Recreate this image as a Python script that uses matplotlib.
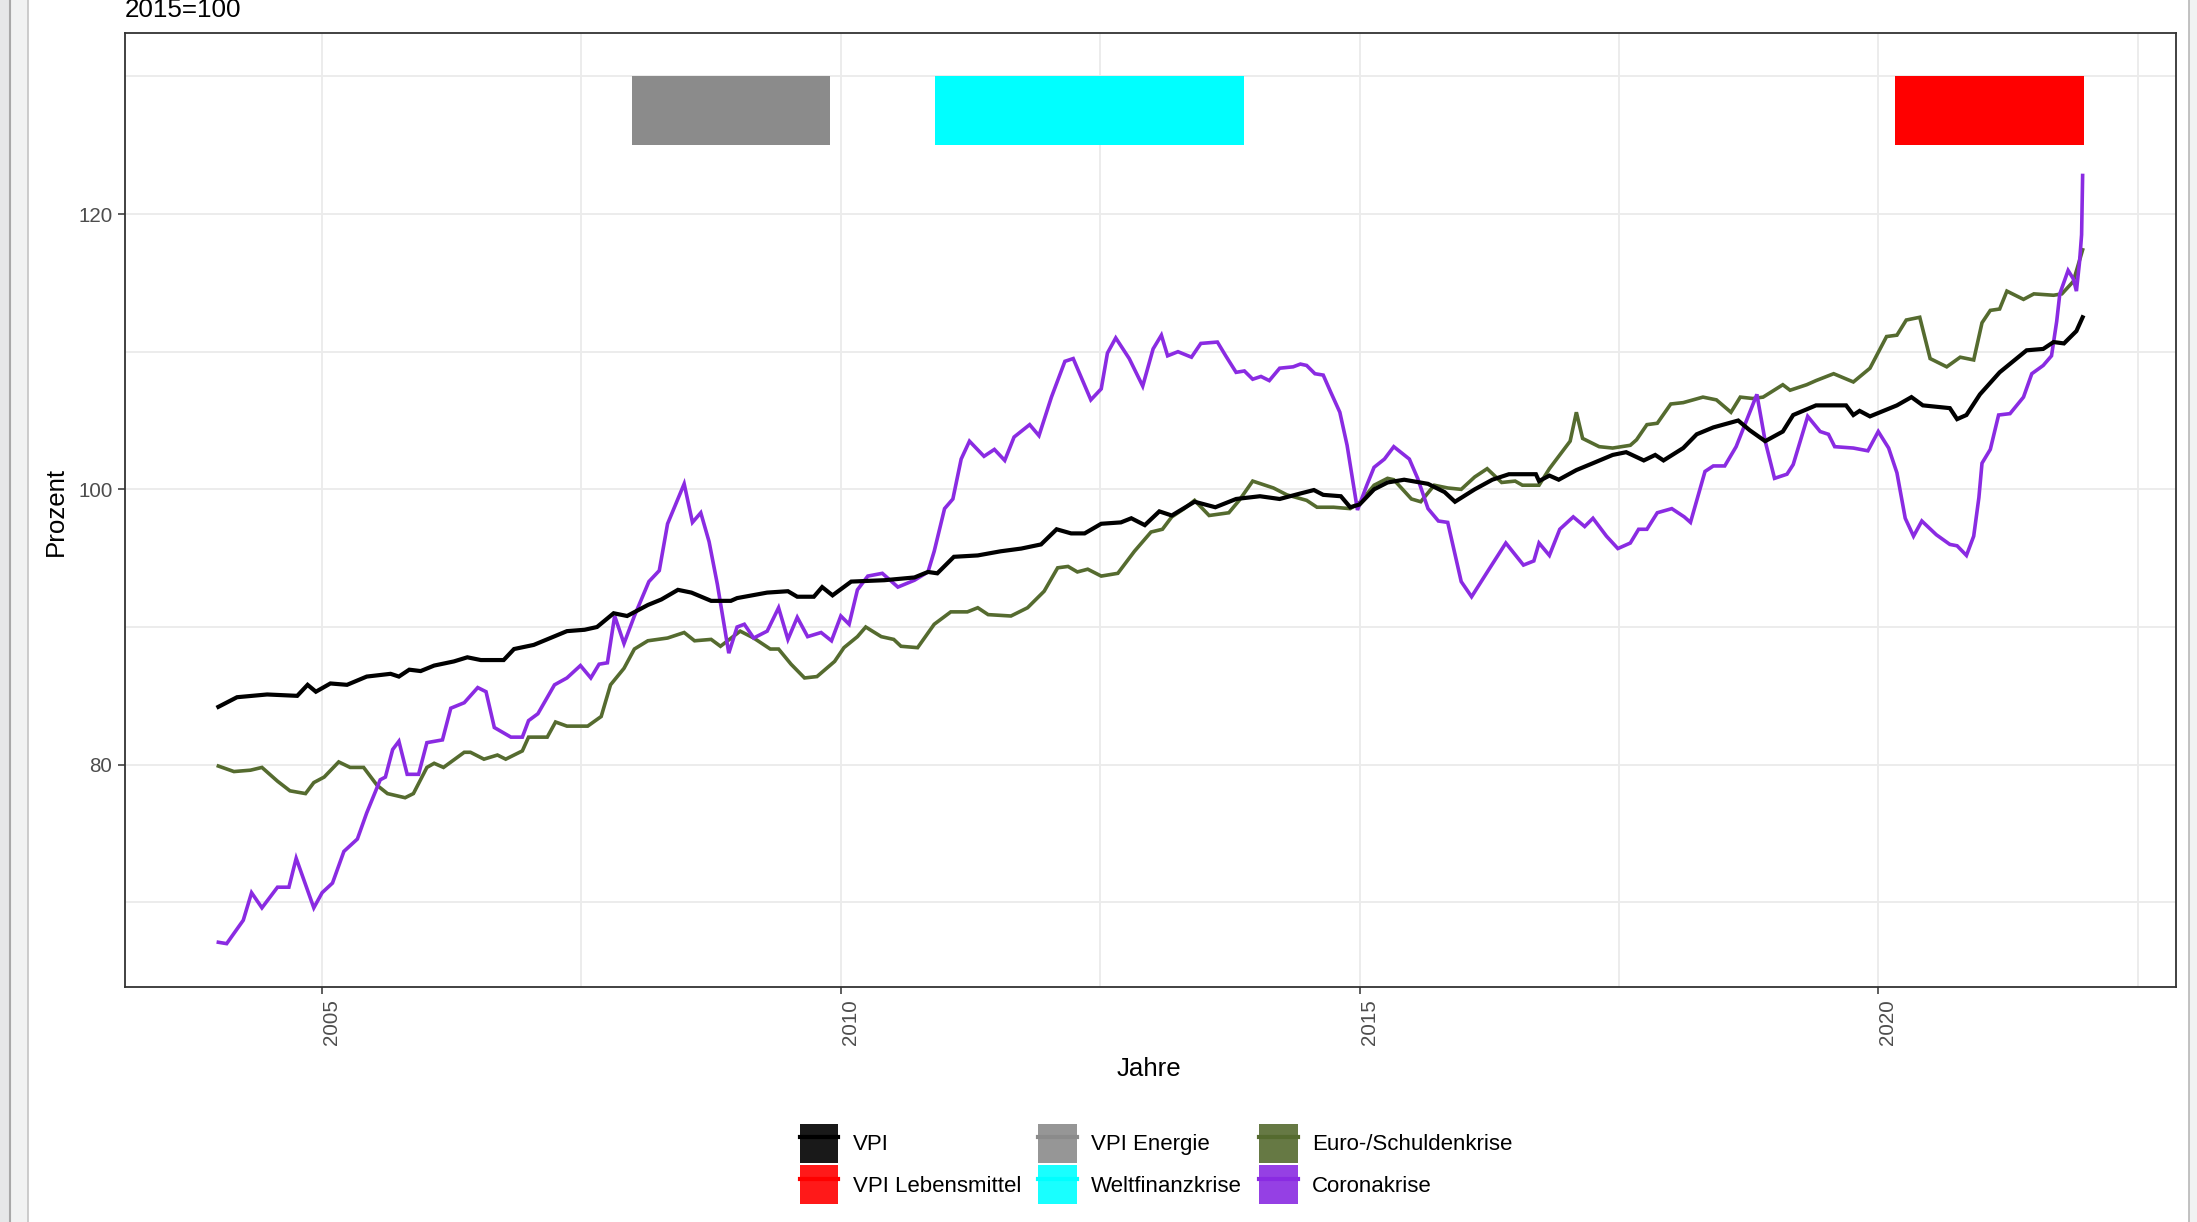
import matplotlib
matplotlib.use("Agg")
import matplotlib.pyplot as plt
from matplotlib.patches import Patch, Rectangle
from matplotlib.lines import Line2D
from matplotlib.legend_handler import HandlerTuple
from matplotlib.ticker import MultipleLocator

plt.rcParams['font.family'] = ['Liberation Sans', 'DejaVu Sans']

# ---------------- data ----------------
vpi_jahr = [2004.0, 2004.18, 2004.47, 2004.76, 2004.86, 2004.94, 2005.08, 2005.24, 2005.43, 2005.66,
            2005.74, 2005.84, 2005.95, 2006.08, 2006.27, 2006.40, 2006.53, 2006.75, 2006.85, 2007.04,
            2007.2, 2007.36, 2007.53, 2007.65, 2007.81, 2007.94, 2008.14, 2008.27, 2008.43, 2008.56,
            2008.75, 2008.94, 2009.0, 2009.29, 2009.49, 2009.58, 2009.74, 2009.82, 2009.92, 2010.1,
            2010.42, 2010.71, 2010.84, 2010.93, 2011.09, 2011.32, 2011.54, 2011.74, 2011.93, 2012.08,
            2012.22, 2012.35, 2012.51, 2012.7, 2012.8, 2012.93, 2013.07, 2013.19, 2013.41, 2013.61,
            2013.81, 2014.04, 2014.23, 2014.43, 2014.56, 2014.65, 2014.82, 2014.91, 2015.0, 2015.14,
            2015.27, 2015.43, 2015.66, 2015.82, 2015.92, 2016.11, 2016.28, 2016.44, 2016.7, 2016.73,
            2016.83, 2016.92, 2017.09, 2017.25, 2017.44, 2017.57, 2017.74, 2017.85, 2017.93, 2018.12,
            2018.25, 2018.41, 2018.65, 2018.76, 2018.91, 2019.08, 2019.18, 2019.4, 2019.69, 2019.76,
            2019.82, 2019.92, 2020.05, 2020.18, 2020.32, 2020.43, 2020.69, 2020.76, 2020.85, 2020.98,
            2021.17, 2021.43, 2021.59, 2021.69, 2021.79, 2021.91, 2021.97]
vpi_wert = [84.2, 84.9, 85.1, 85.0, 85.8, 85.3, 85.9, 85.8, 86.4, 86.6,
            86.4, 86.9, 86.8, 87.2, 87.5, 87.8, 87.6, 87.6, 88.4, 88.7,
            89.2, 89.7, 89.8, 90.0, 91.0, 90.8, 91.6, 92.0, 92.7, 92.5,
            91.9, 91.9, 92.1, 92.5, 92.6, 92.2, 92.2, 92.9, 92.3, 93.3,
            93.4, 93.6, 94.0, 93.9, 95.1, 95.2, 95.5, 95.7, 96.0, 97.1,
            96.8, 96.8, 97.5, 97.6, 97.9, 97.4, 98.4, 98.1, 99.1, 98.7,
            99.3, 99.5, 99.3, 99.7, 99.95, 99.6, 99.5, 98.7, 98.9, 100.0,
            100.5, 100.7, 100.4, 99.8, 99.1, 100.0, 100.7, 101.1, 101.1, 100.6,
            101.0, 100.7, 101.4, 101.9, 102.5, 102.7, 102.1, 102.5, 102.1, 103.0,
            104.0, 104.5, 105.0, 104.3, 103.5, 104.2, 105.4, 106.1, 106.1, 105.4,
            105.7, 105.3, 105.7, 106.1, 106.7, 106.1, 105.9, 105.1, 105.4, 106.9,
            108.5, 110.1, 110.2, 110.7, 110.6, 111.5, 112.5]

euro_jahr = [2004.0, 2004.15, 2004.31, 2004.42, 2004.57, 2004.69, 2004.84, 2004.92, 2005.02, 2005.16,
             2005.27, 2005.4, 2005.53, 2005.63, 2005.8, 2005.88, 2006.01, 2006.08, 2006.17, 2006.37,
             2006.43, 2006.56, 2006.69, 2006.77, 2006.93, 2006.99, 2007.17, 2007.25, 2007.36, 2007.56,
             2007.69, 2007.78, 2007.91, 2008.01, 2008.14, 2008.33, 2008.49, 2008.59, 2008.75, 2008.84,
             2009.03, 2009.16, 2009.32, 2009.4, 2009.52, 2009.65, 2009.77, 2009.94, 2010.03, 2010.16,
             2010.24, 2010.39, 2010.51, 2010.58, 2010.74, 2010.9, 2011.06, 2011.22, 2011.32, 2011.42,
             2011.64, 2011.8, 2011.96, 2012.09, 2012.19, 2012.28, 2012.38, 2012.51, 2012.67, 2012.83,
             2012.99, 2013.1, 2013.19, 2013.31, 2013.41, 2013.55, 2013.74, 2013.84, 2013.97, 2014.17,
             2014.3, 2014.49, 2014.59, 2014.75, 2014.91, 2015.01, 2015.14, 2015.27, 2015.33, 2015.5,
             2015.59, 2015.72, 2015.85, 2015.98, 2016.11, 2016.23, 2016.37, 2016.5, 2016.57, 2016.73,
             2016.83, 2016.93, 2017.03, 2017.09, 2017.15, 2017.31, 2017.44, 2017.61, 2017.67, 2017.77,
             2017.87, 2018.0, 2018.12, 2018.31, 2018.44, 2018.58, 2018.67, 2018.79, 2018.89, 2019.08,
             2019.15, 2019.31, 2019.4, 2019.57, 2019.76, 2019.92, 2020.08, 2020.18, 2020.27, 2020.4,
             2020.5, 2020.66, 2020.79, 2020.92, 2021.0, 2021.08, 2021.17, 2021.24, 2021.4, 2021.5,
             2021.69, 2021.77, 2021.88, 2021.97]
euro_wert = [79.9, 79.5, 79.6, 79.8, 78.8, 78.1, 77.9, 78.7, 79.1, 80.2,
             79.8, 79.8, 78.5, 77.9, 77.6, 77.9, 79.8, 80.1, 79.8, 80.9,
             80.9, 80.4, 80.7, 80.4, 81.0, 82.0, 82.0, 83.1, 82.8, 82.8,
             83.5, 85.8, 87.0, 88.4, 89.0, 89.2, 89.6, 89.0, 89.1, 88.6,
             89.7, 89.2, 88.4, 88.4, 87.3, 86.3, 86.4, 87.5, 88.5, 89.3,
             90.0, 89.3, 89.1, 88.6, 88.5, 90.2, 91.1, 91.1, 91.4, 90.9,
             90.8, 91.4, 92.6, 94.3, 94.4, 94.0, 94.2, 93.7, 93.9, 95.5,
             96.9, 97.1, 98.0, 98.6, 99.2, 98.1, 98.3, 99.2, 100.6, 100.1,
             99.6, 99.2, 98.7, 98.7, 98.6, 99.1, 100.3, 100.8, 100.7, 99.3,
             99.1, 100.3, 100.1, 100.0, 100.9, 101.5, 100.5, 100.6, 100.3, 100.3,
             101.5, 102.5, 103.5, 105.6, 103.7, 103.1, 103.0, 103.2, 103.6, 104.7,
             104.8, 106.2, 106.3, 106.7, 106.5, 105.6, 106.7, 106.6, 106.7, 107.6,
             107.2, 107.6, 107.9, 108.4, 107.8, 108.8, 111.1, 111.2, 112.3, 112.5,
             109.5, 108.9, 109.6, 109.4, 112.1, 113.0, 113.1, 114.4, 113.8, 114.2,
             114.1, 114.2, 115.1, 117.4]

corona_jahr = [2004.0, 2004.08, 2004.24, 2004.32, 2004.42, 2004.57, 2004.68, 2004.75, 2004.92, 2005.0,
               2005.1, 2005.21, 2005.34, 2005.43, 2005.56, 2005.61, 2005.68, 2005.74, 2005.82, 2005.93,
               2006.01, 2006.16, 2006.24, 2006.37, 2006.5, 2006.58, 2006.66, 2006.82, 2006.93, 2006.99,
               2007.08, 2007.24, 2007.36, 2007.49, 2007.59, 2007.67, 2007.75, 2007.82, 2007.91, 2008.01,
               2008.15, 2008.25, 2008.33, 2008.49, 2008.57, 2008.65, 2008.73, 2008.81, 2008.92, 2009.0,
               2009.07, 2009.16, 2009.29, 2009.4, 2009.49, 2009.58, 2009.68, 2009.81, 2009.91, 2010.0,
               2010.08, 2010.16, 2010.26, 2010.4, 2010.55, 2010.71, 2010.84, 2010.9, 2011.0, 2011.08,
               2011.16, 2011.24, 2011.38, 2011.48, 2011.58, 2011.67, 2011.82, 2011.91, 2012.03, 2012.16,
               2012.24, 2012.41, 2012.51, 2012.57, 2012.65, 2012.78, 2012.91, 2013.01, 2013.09, 2013.15,
               2013.25, 2013.38, 2013.47, 2013.63, 2013.71, 2013.81, 2013.89, 2013.97, 2014.05, 2014.13,
               2014.23, 2014.36, 2014.43, 2014.49, 2014.57, 2014.65, 2014.72, 2014.81, 2014.88, 2014.98,
               2015.07, 2015.14, 2015.24, 2015.33, 2015.48, 2015.56, 2015.66, 2015.76, 2015.85, 2015.98,
               2016.08, 2016.24, 2016.41, 2016.58, 2016.68, 2016.73, 2016.83, 2016.93, 2017.06, 2017.17,
               2017.25, 2017.38, 2017.49, 2017.61, 2017.69, 2017.77, 2017.87, 2018.01, 2018.13, 2018.19,
               2018.33, 2018.41, 2018.52, 2018.63, 2018.83, 2018.91, 2019.0, 2019.12, 2019.18, 2019.32,
               2019.44, 2019.52, 2019.58, 2019.76, 2019.9, 2020.0, 2020.1, 2020.18, 2020.26, 2020.34,
               2020.42, 2020.56, 2020.69, 2020.76, 2020.85, 2020.92, 2020.97, 2021.0, 2021.08, 2021.16,
               2021.27, 2021.4, 2021.48, 2021.59, 2021.67, 2021.72, 2021.75, 2021.83, 2021.88, 2021.91,
               2021.94, 2021.96, 2021.97]
corona_wert = [67.1, 67.0, 68.7, 70.7, 69.6, 71.1, 71.1, 73.2, 69.6, 70.7,
               71.4, 73.7, 74.6, 76.5, 78.9, 79.1, 81.1, 81.7, 79.3, 79.3,
               81.6, 81.8, 84.1, 84.5, 85.6, 85.3, 82.7, 82.0, 82.0, 83.2,
               83.7, 85.8, 86.3, 87.2, 86.3, 87.3, 87.4, 90.8, 88.8, 90.8,
               93.3, 94.1, 97.5, 100.4, 97.6, 98.3, 96.2, 93.1, 88.1, 90.0,
               90.2, 89.2, 89.7, 91.4, 89.1, 90.7, 89.3, 89.6, 89.0, 90.8,
               90.2, 92.7, 93.7, 93.9, 92.9, 93.4, 94.0, 95.5, 98.6, 99.3,
               102.2, 103.5, 102.4, 102.9, 102.1, 103.8, 104.7, 103.9, 106.7, 109.3,
               109.5, 106.5, 107.3, 109.9, 111.0, 109.5, 107.5, 110.2, 111.2, 109.7,
               110.0, 109.6, 110.6, 110.7, 109.7, 108.5, 108.6, 108.0, 108.2, 107.9,
               108.8, 108.9, 109.1, 109.0, 108.4, 108.3, 107.1, 105.6, 103.2, 98.5,
               100.3, 101.6, 102.2, 103.1, 102.2, 100.8, 98.6, 97.7, 97.6, 93.3,
               92.2, 94.1, 96.1, 94.5, 94.8, 96.1, 95.2, 97.1, 98.0, 97.3,
               97.9, 96.6, 95.7, 96.1, 97.1, 97.1, 98.3, 98.6, 98.0, 97.6,
               101.3, 101.7, 101.7, 103.1, 106.9, 103.5, 100.8, 101.1, 101.8, 105.3,
               104.2, 104.0, 103.1, 103.0, 102.8, 104.2, 103.0, 101.2, 97.9, 96.6,
               97.7, 96.7, 96.0, 95.9, 95.2, 96.6, 99.4, 101.9, 102.9, 105.4,
               105.5, 106.7, 108.4, 109.0, 109.7, 112.2, 114.2, 115.9, 115.3, 114.4,
               116.5, 118.5, 122.8]

# crisis periods (start, end) drawn as bars at the top
krisen_namen = ['VPI Energie', 'Weltfinanzkrise', 'VPI Lebensmittel']
krisen_start = [2007.99, 2010.91, 2020.16]
krisen_ende = [2009.90, 2013.89, 2021.98]
krisen_unten = 125
krisen_oben = 130

legende_namen = ['VPI', 'VPI Energie', 'Euro-/Schuldenkrise',
                 'VPI Lebensmittel', 'Weltfinanzkrise', 'Coronakrise']
farben = {'VPI': '#000000', 'VPI Energie': '#8B8B8B', 'Euro-/Schuldenkrise': '#556B2F',
          'VPI Lebensmittel': '#FF0000', 'Weltfinanzkrise': '#00FFFF', 'Coronakrise': '#8A2BE2'}

x_ticks = [2005, 2010, 2015, 2020]
y_ticks = [80, 100, 120]

# ---------------- figure ----------------
W, H = 2197, 1222
fig = plt.figure(figsize=(W / 100, H / 100), dpi=100)
fig.patch.set_facecolor('white')

# window chrome of the screenshot (left and right edges)
fig.patches.append(Rectangle((0, 0), 10 / W, 1, transform=fig.transFigure,
                             facecolor='#E6E7E8', edgecolor='none', zorder=0))
fig.patches.append(Rectangle((10 / W, 0), 18 / W, 1, transform=fig.transFigure,
                             facecolor='#F1F2F2', edgecolor='none', zorder=0))
fig.add_artist(Line2D([10 / W, 10 / W], [0, 1], transform=fig.transFigure, color='#A8A8A8', lw=1.5))
fig.add_artist(Line2D([28 / W, 28 / W], [0, 1], transform=fig.transFigure, color='#C4C4C4', lw=1.2))
fig.patches.append(Rectangle((2189 / W, 0), 8 / W, 1, transform=fig.transFigure,
                             facecolor='#F1F2F2', edgecolor='none', zorder=0))
fig.add_artist(Line2D([2189 / W, 2189 / W], [0, 1], transform=fig.transFigure, color='#B8B8B8', lw=1.2))

left, right, top, bottom = 125, 2176, 33, 987
ax = fig.add_axes([left / W, 1 - bottom / H, (right - left) / W, (bottom - top) / H])

# crisis bars
for name, s, e in zip(krisen_namen, krisen_start, krisen_ende):
    ax.add_patch(Rectangle((s, krisen_unten), e - s, krisen_oben - krisen_unten,
                           facecolor=farben[name], edgecolor='none', zorder=2))

ax.plot(euro_jahr, euro_wert, color=farben['Euro-/Schuldenkrise'], lw=2.6, zorder=3,
        solid_joinstyle='miter')
ax.plot(corona_jahr, corona_wert, color=farben['Coronakrise'], lw=2.6, zorder=3,
        solid_joinstyle='miter')
ax.plot(vpi_jahr, vpi_wert, color=farben['VPI'], lw=3.0, zorder=4, solid_joinstyle='miter')

ax.set_xlim(2003.1, 2022.87)
ax.set_ylim(63.85, 133.15)
ax.set_xticks(x_ticks)
ax.set_yticks(y_ticks)
ax.xaxis.set_minor_locator(MultipleLocator(2.5))
ax.yaxis.set_minor_locator(MultipleLocator(10))
ax.grid(True, which='both', color='#EBEBEB', lw=1.3, zorder=0)
ax.set_axisbelow(True)
for sp in ax.spines.values():
    sp.set_color('#333333')
    sp.set_linewidth(1.3)

ax.tick_params(axis='both', which='major', length=5, width=1.1, color='#333333',
               labelsize=14.8, labelcolor='#4D4D4D', pad=4)
ax.tick_params(axis='both', which='minor', length=0)
for lab in ax.get_xticklabels():
    lab.set_rotation(90)
    lab.set_ha('left')
    lab.set_va('top')

ax.set_xlabel('Jahre', fontsize=18.6, color='black')
ax.xaxis.set_label_coords(0.499, -(1069 - bottom) / (bottom - top))
ax.xaxis.label.set_va('center')
ax.set_ylabel('Prozent', fontsize=18.6, color='black')
ax.yaxis.set_label_coords(-(left - 56) / (right - left), 0.5 - (511 - 510) / (bottom - top))
ax.yaxis.label.set_va('center')

ax.text(0, 1 + (top - 17) / (bottom - top), '2015=100', transform=ax.transAxes,
        ha='left', va='baseline', fontsize=18.7, color='black')

# legend: filled square with a line through the middle, 3 columns x 2 rows
handles = {}
for name in legende_namen:
    c = farben[name]
    handles[name] = (Patch(facecolor=c, edgecolor='none', alpha=0.9),
                     Line2D([], [], color=c, lw=3))
order = ['VPI', 'VPI Lebensmittel', 'VPI Energie', 'Weltfinanzkrise',
         'Euro-/Schuldenkrise', 'Coronakrise']
fig.legend([handles[n] for n in order], order, ncol=3, loc='center',
           bbox_to_anchor=(1156 / W, 1 - 1164 / H), frameon=False, fontsize=16,
           handler_map={tuple: HandlerTuple(ndivide=1)},
           handlelength=1.75, handleheight=2.32, handletextpad=0.65,
           columnspacing=0.75, labelspacing=0.12, borderpad=0)

fig.savefig('out.png', dpi=100, facecolor='white')
